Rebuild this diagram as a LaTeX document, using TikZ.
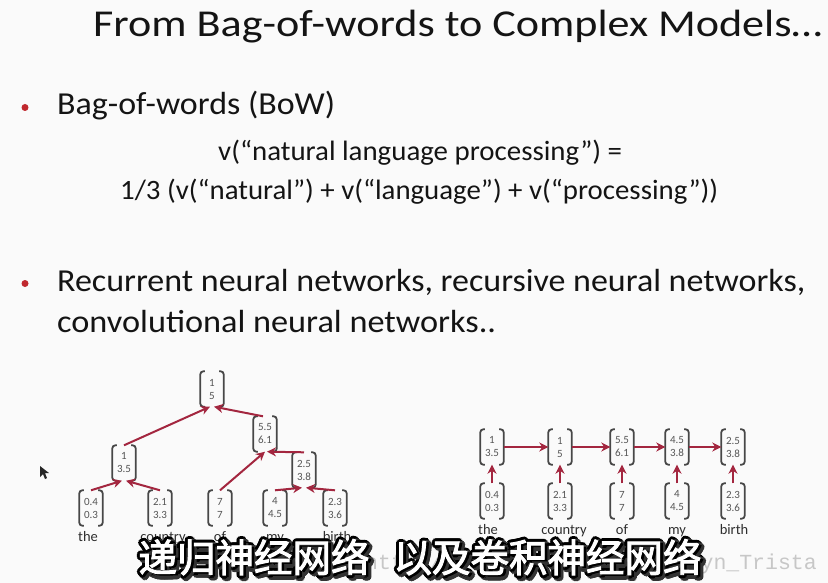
\documentclass[tikz,border=0pt]{standalone}
\usepackage{fontspec}
\usepackage{graphicx}
\usetikzlibrary{arrows.meta}
\setmainfont{Carlito}
\newfontfamily\cjk{Noto Sans CJK SC}[AutoFakeBold=2.5]
\newfontfamily\wmfont{Liberation Mono}
\definecolor{bg}{HTML}{FAFAFA}
\definecolor{ink}{HTML}{141414}
\definecolor{bulletred}{HTML}{C0282E}
\definecolor{arrred}{HTML}{A3263F}
\definecolor{numgray}{HTML}{555555}
\definecolor{brkgray}{HTML}{474747}
\definecolor{lblgray}{HTML}{2E2E2E}
\tikzset{
 titletext/.style={anchor=base west, inner sep=0, text=ink, font=\fontsize{38}{44}\selectfont},
 body/.style={anchor=base west, inner sep=0, text=ink, font=\fontsize{32}{38}\selectfont},
 formula/.style={anchor=base west, inner sep=0, text=ink, font=\fontsize{28}{34}\selectfont},
 bulletdot/.style={circle, fill=bulletred, inner sep=0, minimum size=7pt},
 vec/.style={align=center, inner sep=0, minimum width=23pt, minimum height=35pt, text=numgray, font=\fontsize{11}{13}\selectfont},
 brk/.style={draw=brkgray, line width=1.8pt, rounded corners=3pt},
 word/.style={anchor=base, inner sep=0, text=lblgray, font=\fontsize{14.5}{17}\selectfont},
 arr/.style={draw=arrred, line width=2pt, -{Stealth[length=9pt, width=9pt]}},
 sub/.style={anchor=base, inner sep=0, font=\cjk\bfseries\fontsize{38.5}{43}\selectfont},
}
\newcommand\vecnode[4]{%
 \node[vec] (#1) at (#2) {#3\\#4};
 \draw[brk] ([xshift=4.5pt]#1.north west) -- (#1.north west) -- (#1.south west) -- ([xshift=4.5pt]#1.south west);
 \draw[brk] ([xshift=-4.5pt]#1.north east) -- (#1.north east) -- (#1.south east) -- ([xshift=-4.5pt]#1.south east);}
\newcommand\fitw[2]{\resizebox{#1}{\height}{#2}}
\newcommand\subtext{递归神经网络\hspace{24pt}以及卷积神经网络}
\begin{document}
\begin{tikzpicture}[x=1pt,y=-1pt]
\fill[bg] (0,0) rectangle (828,583);
\useasboundingbox (0,0) rectangle (828,583);
% title
\node[titletext] (title) at (93,37) {\fitw{729pt}{From Bag-of-words to Complex Models…}};
% bullets
\node[bulletdot] (d1) at (25,107.5) {};
\node[body] (b1) at (57,115) {\fitw{278pt}{Bag-of-words (BoW)}};
\node[formula] (f1) at (218,161) {\fitw{404pt}{v(“natural language processing”) =}};
\node[formula] (f2) at (120,200) {\fitw{598pt}{1/3 (v(“natural”) + v(“language”) + v(“processing”))}};
\node[bulletdot] (d2) at (25,283.5) {};
\node[body] (b2) at (57,291) {\fitw{748pt}{Recurrent neural networks, recursive neural networks,}};
\node[body] (b3) at (57,332) {\fitw{439pt}{convolutional neural networks..}};
% tree
\vecnode{T}{212,389}{1}{5}
\vecnode{A}{124,463}{1}{3.5}
\vecnode{B}{265,434}{5.5}{6.1}
\vecnode{C}{304,470}{2.5}{3.8}
\vecnode{L1}{91,508}{0.4}{0.3}
\vecnode{L2}{160,508}{2.1}{3.3}
\vecnode{L3}{220,508}{7}{7}
\vecnode{L4}{275,508}{4}{4.5}
\vecnode{L5}{335,508}{2.3}{3.6}
\draw[arr] (L1.north) -- ([xshift=-2pt]A.south);
\draw[arr] (L2.north) -- ([xshift=2pt]A.south);
\draw[arr] (A.north) -- ([xshift=-2pt]T.south);
\draw[arr] ([xshift=-2pt]B.north) -- ([xshift=2pt]T.south);
\draw[arr] (L3.north) -- (B.south);
\draw[arr] (C.north) -- ([xshift=2pt]B.south);
\draw[arr] (L4.north) -- ([xshift=-2pt]C.south);
\draw[arr] (L5.north) -- ([xshift=2pt]C.south);
\node[word] (w1) at (88,541) {the};
\node[word] (w2) at (163,541) {country};
\node[word] (w3) at (220,541) {of};
\node[word] (w4) at (275,541) {my};
\node[word] (w5) at (337,541) {birth};
% chain
\vecnode{R1}{492,447}{1}{3.5}
\vecnode{R2}{560,447}{1}{5}
\vecnode{R3}{622,447}{5.5}{6.1}
\vecnode{R4}{677,447}{4.5}{3.8}
\vecnode{R5}{733,447}{2.5}{3.8}
\vecnode{S1}{492,501}{0.4}{0.3}
\vecnode{S2}{560,501}{2.1}{3.3}
\vecnode{S3}{622,501}{7}{7}
\vecnode{S4}{677,501}{4}{4.5}
\vecnode{S5}{733,501}{2.3}{3.6}
\draw[arr] (R1.east) -- (R2.west);
\draw[arr] (R2.east) -- (R3.west);
\draw[arr] (R3.east) -- (R4.west);
\draw[arr] (R4.east) -- (R5.west);
\draw[arr] (S1.north) -- (R1.south);
\draw[arr] (S2.north) -- (R2.south);
\draw[arr] (S3.north) -- (R3.south);
\draw[arr] (S4.north) -- (R4.south);
\draw[arr] (S5.north) -- (R5.south);
\node[word] (v1) at (488,534) {the};
\node[word] (v2) at (564,534) {country};
\node[word] (v3) at (622,534) {of};
\node[word] (v4) at (677,534) {my};
\node[word] (v5) at (734,534) {birth};
% cursor
\fill[black!85] (40,466) -- (40,477) -- (43,474) -- (45,479) -- (47,478) -- (45,473) -- (49,473) -- cycle;
% watermark
\node[anchor=base east, inner sep=0, text=black!22, font=\wmfont\fontsize{21.5}{24}\selectfont] (wm) at (817,569) {http://blog.csdn.net/Marilyn\_Trista};
% subtitle
\foreach \a in {0,30,...,330}{
 \node[sub, text=black!80, xshift={2.5pt+3pt*cos(\a)}, yshift={-2.5pt+3pt*sin(\a)}] at (420,572) {\subtext};
 \node[sub, text=black, xshift={3pt*cos(\a)}, yshift={3pt*sin(\a)}] at (420,572) {\subtext};
}
\node[sub, text=white] (subt) at (420,572) {\subtext};
\end{tikzpicture}
\end{document}
